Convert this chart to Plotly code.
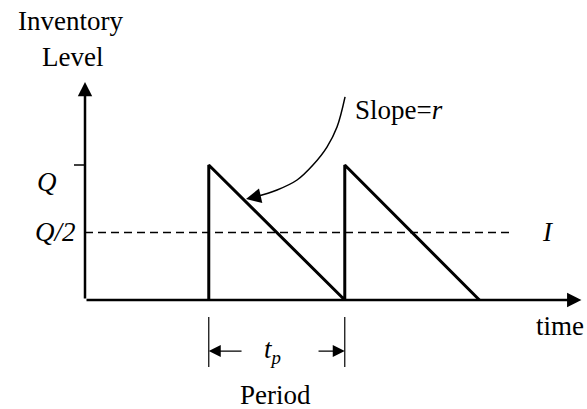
"""
Sawtooth inventory diagram (EOQ style) drawn with Plotly
"""
import plotly.graph_objects as go

# time in units of one period t_p, inventory in units of Q
cycle_time = [0.91, 0.91, 1.91, 1.91, 2.90]
cycle_level = [0.0, 1.0, 0.0, 1.0, 0.0]
order_qty = 1.0
avg_level = 0.5
avg_line_time = [0.0, 3.14]
period_bounds = [0.91, 1.91]

# axes extents (where the arrow tips sit)
x_axis_end = 3.65
y_axis_end = 1.615

# leader curve from the "Slope=r" label down to the first ramp
slope_curve_t = [1.912, 1.853, 1.779, 1.676, 1.559, 1.412, 1.25]
slope_curve_y = [1.504, 1.281, 1.133, 1.0, 0.889, 0.815, 0.763]
slope_tip = (1.184, 0.748)

FONT = "Liberation Serif"
FS = 27
BLACK = "black"


def text(fig, x, y, s, anchor="center", size=FS):
    fig.add_annotation(x=x, y=y, text=s, showarrow=False, xanchor=anchor,
                       yanchor="middle", font=dict(family=FONT, size=size, color=BLACK))


def arrow(fig, x0, y0, x1, y1, width, size):
    fig.add_annotation(x=x1, y=y1, ax=x0, ay=y0, xref="x", yref="y",
                       axref="x", ayref="y", text="", showarrow=True,
                       arrowhead=2, arrowwidth=width, arrowsize=size,
                       arrowcolor=BLACK, standoff=0)


fig = go.Figure()

# sawtooth
fig.add_trace(go.Scatter(x=cycle_time, y=cycle_level, mode="lines",
                         line=dict(color=BLACK, width=3), hoverinfo="skip"))

# average inventory line
fig.add_trace(go.Scatter(x=avg_line_time, y=[avg_level, avg_level], mode="lines",
                         line=dict(color=BLACK, width=1.5, dash="8px,5px"),
                         hoverinfo="skip"))

# Q tick
fig.add_trace(go.Scatter(x=[-0.081, 0], y=[order_qty, order_qty], mode="lines",
                         line=dict(color=BLACK, width=1.5), hoverinfo="skip"))

# leader curve
fig.add_trace(go.Scatter(x=slope_curve_t, y=slope_curve_y, mode="lines",
                         line=dict(color=BLACK, width=1.5, shape="spline"),
                         hoverinfo="skip"))

# period extension lines
for t in period_bounds:
    fig.add_trace(go.Scatter(x=[t, t], y=[-0.126, -0.496], mode="lines",
                             line=dict(color=BLACK, width=1.2), hoverinfo="skip"))

# axes with arrowheads
arrow(fig, 0, 0, x_axis_end, 0, 2.5, 1.15)
arrow(fig, 0, 0, 0, y_axis_end, 2.5, 1.15)

# leader curve head
arrow(fig, slope_curve_t[-1], slope_curve_y[-1], slope_tip[0], slope_tip[1], 1.5, 2)

# period dimension arrows
arrow(fig, 1.162, -0.378, period_bounds[0], -0.378, 1.2, 2)
arrow(fig, 1.706, -0.378, period_bounds[1], -0.378, 1.2, 2)

# labels
text(fig, -0.103, 2.07, "Inventory")
text(fig, -0.092, 1.80, "Level")
text(fig, -0.279, 0.874, "<i>Q</i>")
text(fig, -0.22, 0.504, "<i>Q/2</i>")
text(fig, 1.97, 1.407, "Slope=<i>r</i>", anchor="left")
text(fig, 3.404, 0.504, "<i>I</i>")
text(fig, 3.49, -0.193, "time")
text(fig, 1.375, -0.378, "<i>t<sub>p</sub></i>")
text(fig, 1.40, -0.70, "Period")

fig.update_layout(
    width=587, height=409,
    margin=dict(l=0, r=0, t=0, b=0),
    paper_bgcolor="white", plot_bgcolor="white",
    showlegend=False,
    xaxis=dict(range=[-0.625, 3.691], visible=False, fixedrange=True),
    yaxis=dict(range=[-0.807, 2.222], visible=False, fixedrange=True),
)

# drop the default page margin so the figure sits at the window's corner
fig.write_html("out.html", config={"displayModeBar": False},
               post_script="document.body.style.margin='0px';")
